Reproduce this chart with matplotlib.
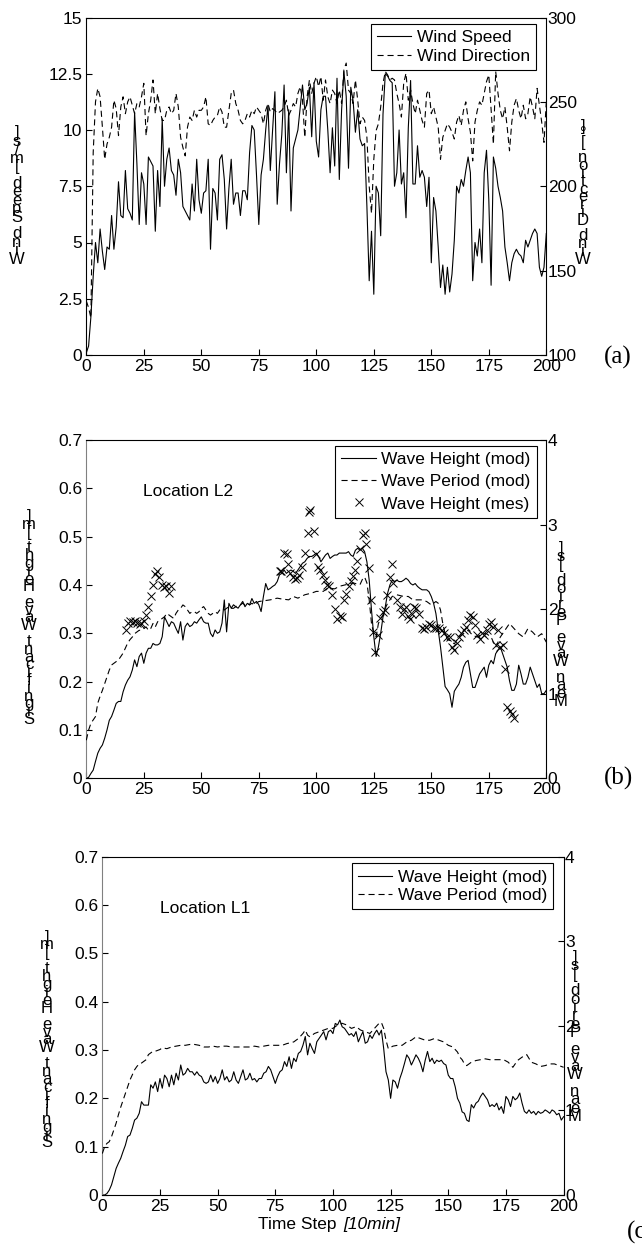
import matplotlib
matplotlib.use("Agg")
import matplotlib.pyplot as plt
from matplotlib.lines import Line2D
import numpy as np

plt.rcParams['font.family'] = ['Liberation Sans', 'DejaVu Sans']

# ---------------- data ----------------
wind_speed = [0.1, 0.4, 1.7, 3.5, 5.0, 4.1, 5.6, 4.6, 3.8, 4.8,
              4.7, 6.2, 4.7, 5.7, 7.7, 6.2, 6.1, 8.2, 6.5, 6.3,
              6.0, 10.8, 8.5, 5.8, 8.1, 7.6, 5.8, 8.8, 8.6, 8.4,
              5.5, 8.2, 6.6, 10.5, 7.5, 8.7, 9.2, 8.2, 8.0, 7.1,
              8.7, 8.1, 6.6, 6.4, 6.2, 6.0, 7.6, 6.4, 8.7, 6.9,
              6.3, 7.2, 7.3, 8.7, 4.7, 7.4, 7.2, 6.0, 8.7, 8.9,
              7.8, 5.6, 7.4, 8.7, 6.7, 7.2, 7.2, 6.2, 7.3, 7.3,
              6.9, 9.0, 10.2, 10.0, 8.0, 5.8, 8.0, 8.7, 10.0, 11.1,
              8.2, 10.0, 11.7, 6.7, 8.5, 9.8, 12.0, 8.1, 10.9, 6.4,
              9.2, 9.6, 10.0, 11.0, 12.0, 10.9, 11.2, 11.9, 9.7, 12.1,
              9.5, 8.8, 10.9, 11.5, 11.5, 10.0, 8.1, 10.1, 8.4, 12.3,
              7.8, 10.9, 12.6, 11.5, 8.3, 11.9, 11.3, 9.9, 10.9, 9.6,
              9.3, 9.4, 6.6, 3.3, 5.5, 2.7, 7.5, 7.2, 5.3, 10.7,
              12.5, 12.4, 12.2, 12.1, 7.5, 8.1, 10.0, 7.6, 8.1, 6.1,
              10.1, 12.2, 7.6, 7.6, 9.3, 7.9, 8.2, 7.9, 6.6, 7.9,
              4.1, 7.0, 6.4, 4.8, 3.0, 4.0, 2.7, 3.9, 2.8, 3.6,
              5.1, 7.5, 7.2, 7.8, 7.5, 8.2, 8.8, 8.1, 3.3, 5.0,
              4.4, 5.6, 4.1, 8.1, 9.1, 6.9, 3.1, 8.8, 8.3, 7.5,
              7.0, 6.4, 4.8, 4.1, 3.3, 4.1, 4.5, 4.7, 4.5, 4.4,
              4.1, 5.1, 4.8, 5.1, 5.4, 5.6, 5.4, 3.9, 3.5, 3.9,
              5.4]

wind_dir = [132, 128, 122, 220, 250, 258, 253, 235, 216, 225,
            229, 235, 251, 246, 230, 247, 253, 243, 250, 253,
            248, 243, 249, 247, 253, 261, 230, 243, 251, 263,
            243, 255, 246, 239, 239, 245, 247, 243, 245, 255,
            247, 229, 223, 218, 235, 241, 239, 245, 241, 245,
            245, 247, 253, 237, 236, 239, 241, 242, 247, 244,
            235, 235, 245, 255, 257, 249, 245, 239, 237, 239,
            243, 241, 245, 243, 247, 245, 243, 237, 245, 249,
            244, 246, 245, 243, 244, 245, 247, 251, 242, 245,
            249, 247, 255, 259, 251, 229, 253, 263, 255, 261,
            265, 259, 265, 251, 263, 253, 249, 257, 255, 249,
            257, 249, 269, 273, 257, 255, 249, 263, 251, 237,
            241, 239, 229, 200, 184, 216, 233, 237, 247, 261,
            268, 266, 263, 264, 263, 255, 249, 241, 261, 267,
            251, 257, 249, 243, 251, 245, 239, 235, 255, 257,
            243, 247, 241, 235, 216, 229, 233, 237, 235, 232,
            228, 238, 242, 236, 245, 250, 240, 232, 215, 238,
            245, 250, 248, 255, 262, 266, 245, 225, 268, 255,
            245, 240, 247, 235, 221, 238, 248, 252, 245, 240,
            248, 240, 243, 253, 247, 240, 258, 248, 238, 226,
            250]

height_b = [0.0, 0.002, 0.01, 0.017, 0.035, 0.052, 0.062, 0.069, 0.083, 0.10,
            0.12, 0.128, 0.141, 0.155, 0.159, 0.159, 0.179, 0.193, 0.203, 0.21,
            0.224, 0.245, 0.231, 0.252, 0.259, 0.238, 0.259, 0.269, 0.269, 0.279,
            0.276, 0.276, 0.279, 0.293, 0.334, 0.324, 0.314, 0.324, 0.321, 0.31,
            0.30, 0.324, 0.286, 0.314, 0.321, 0.314, 0.317, 0.324, 0.321, 0.328,
            0.334, 0.324, 0.321, 0.321, 0.30, 0.293, 0.307, 0.30, 0.303, 0.321,
            0.369, 0.303, 0.362, 0.352, 0.359, 0.355, 0.352, 0.359, 0.366, 0.355,
            0.362, 0.359, 0.372, 0.362, 0.366, 0.359, 0.345, 0.376, 0.403, 0.39,
            0.393, 0.397, 0.40, 0.407, 0.421, 0.424, 0.431, 0.424, 0.428, 0.431,
            0.428, 0.424, 0.431, 0.438, 0.445, 0.448, 0.455, 0.459, 0.459, 0.462,
            0.466, 0.459, 0.448, 0.455, 0.462, 0.466, 0.455, 0.459, 0.462, 0.462,
            0.466, 0.466, 0.466, 0.466, 0.469, 0.462, 0.459, 0.472, 0.476, 0.472,
            0.476, 0.469, 0.448, 0.41, 0.348, 0.293, 0.252, 0.272, 0.30, 0.334,
            0.355, 0.383, 0.40, 0.41, 0.407, 0.41, 0.407, 0.407, 0.41, 0.414,
            0.41, 0.403, 0.40, 0.403, 0.397, 0.393, 0.39, 0.39, 0.39, 0.386,
            0.376, 0.362, 0.341, 0.307, 0.272, 0.231, 0.19, 0.183, 0.175, 0.147,
            0.18, 0.188, 0.195, 0.209, 0.23, 0.24, 0.244, 0.216, 0.188, 0.188,
            0.202, 0.216, 0.223, 0.23, 0.209, 0.234, 0.244, 0.237, 0.258, 0.265,
            0.272, 0.258, 0.244, 0.23, 0.202, 0.182, 0.182, 0.195, 0.234, 0.216,
            0.195, 0.195, 0.209, 0.23, 0.216, 0.202, 0.188, 0.195, 0.175, 0.175,
            0.182]

period_b_t = list(range(0, 76)) + [
    80, 83, 85, 88, 90, 92, 95, 98, 100, 103, 105, 108, 110, 113, 116, 119,
    120, 121, 122, 123, 124, 125, 126, 127, 128, 129, 130, 131, 132, 133, 135,
    138, 140, 142, 144, 146, 148, 150, 152, 153, 154, 155, 156, 157, 158, 160,
    162, 164, 166, 168, 170, 172, 174, 176, 178, 180, 182, 184, 186, 188, 190,
    192, 194, 196, 198, 200]
period_b = [0.45, 0.57, 0.65, 0.69, 0.73, 0.89, 0.97, 1.04, 1.12, 1.2,
            1.28, 1.34, 1.36, 1.38, 1.4, 1.44, 1.48, 1.54, 1.6, 1.64,
            1.67, 1.71, 1.73, 1.75, 1.75, 1.77, 1.79, 1.75, 1.77, 1.83,
            1.79, 1.85, 1.87, 1.89, 1.91, 1.95, 1.93, 1.91, 1.89, 1.95,
            1.99, 2.01, 2.05, 2.03, 1.99, 1.95, 1.97, 1.97, 1.95, 1.97,
            2.01, 2.03, 1.99, 1.95, 1.93, 1.95, 1.97, 1.95, 1.99, 2.01,
            1.99, 2.01, 2.03, 2.01, 2.01, 2.03, 2.05, 2.05, 2.07, 2.05,
            2.07, 2.05, 2.07, 2.05, 2.07, 2.09,
            2.11, 2.13, 2.12, 2.11, 2.15, 2.13, 2.17, 2.19, 2.21, 2.21,
            2.25, 2.24, 2.27, 2.29, 2.31, 2.29,
            2.35, 2.38, 2.31, 2.11, 1.83, 1.71, 1.67, 1.83, 1.89, 1.93,
            2.01, 2.07, 2.11, 2.15, 2.17,
            2.15, 2.15, 2.11, 2.11, 2.11, 2.09, 2.05, 2.09, 2.07, 1.99,
            1.83, 1.71, 1.64, 1.63, 1.59,
            1.67, 1.71, 1.75, 1.69, 1.67, 1.71, 1.71, 1.67, 1.55, 1.67,
            1.75, 1.83, 1.77, 1.71, 1.67,
            1.77, 1.73, 1.67, 1.71, 1.61]

meas_b_t = [17.1, 18.1, 19.1, 20.1, 21.2, 22.2, 23.2, 23.9, 24.9, 25.9,
            27.0, 28.0, 29.0, 30.0, 30.7, 31.7, 32.8, 33.8, 34.8, 35.8, 36.8,
            84.0, 84.7, 86.1, 87.1, 87.7, 88.6, 89.7, 90.8, 91.8, 92.6, 93.8,
            95.0, 96.2, 97.0, 97.4, 98.8, 99.9, 100.9, 101.7, 102.7, 103.8,
            104.6, 105.6, 107.0, 108.1, 109.1, 110.3, 111.1, 112.1, 113.0,
            114.0, 115.0, 116.0, 116.9, 117.9, 118.9, 120.1, 121.0, 121.8,
            123.0, 123.8, 124.7, 125.6, 126.7, 127.9, 128.8, 129.9, 130.8,
            131.9, 132.8, 133.5, 135.1, 136.3, 137.1, 138.0, 138.9, 139.7,
            140.6, 141.5, 142.5, 143.5, 144.7, 145.8, 146.8, 147.8, 149.0,
            150.0, 151.2, 152.2, 153.3, 154.5, 155.5, 157.0, 158, 159, 160,
            161, 162, 163, 164, 165, 166, 167, 168, 169, 170, 171, 172, 173,
            174, 175, 176, 177, 178, 179, 180, 181, 182, 183, 184, 185, 186]
meas_b = [0.307, 0.322, 0.326, 0.324, 0.326, 0.322, 0.319, 0.321, 0.326, 0.338,
          0.354, 0.377, 0.401, 0.422, 0.428, 0.416, 0.401, 0.395, 0.397, 0.383, 0.398,
          0.428, 0.428, 0.466, 0.464, 0.443, 0.424, 0.416, 0.412, 0.414, 0.421, 0.438,
          0.466, 0.508, 0.552, 0.555, 0.512, 0.464, 0.438, 0.431, 0.421, 0.41,
          0.40, 0.397, 0.379, 0.35, 0.329, 0.336, 0.333, 0.369, 0.381,
          0.398, 0.408, 0.419, 0.431, 0.45, 0.474, 0.503, 0.508, 0.485,
          0.436, 0.369, 0.303, 0.261, 0.297, 0.331, 0.345, 0.348, 0.379,
          0.416, 0.443, 0.405, 0.369, 0.355, 0.34, 0.35, 0.354, 0.336,
          0.329, 0.34, 0.355, 0.352, 0.34, 0.312, 0.308, 0.314, 0.319,
          0.317, 0.312, 0.31, 0.312, 0.307, 0.301, 0.293, 0.292, 0.272, 0.265,
          0.279, 0.292, 0.30, 0.306, 0.313, 0.327, 0.337, 0.334, 0.317, 0.296, 0.289, 0.30, 0.296,
          0.306, 0.32, 0.324, 0.313, 0.275, 0.306, 0.272, 0.275, 0.227, 0.147, 0.14, 0.133, 0.125]

height_c = [0.0, 0.0, 0.003, 0.01, 0.021, 0.038, 0.055, 0.066, 0.076, 0.09,
            0.103, 0.121, 0.124, 0.138, 0.155, 0.159, 0.169, 0.193, 0.186, 0.186,
            0.186, 0.228, 0.221, 0.234, 0.214, 0.241, 0.221, 0.248, 0.241, 0.224,
            0.248, 0.228, 0.252, 0.238, 0.269, 0.248, 0.252, 0.262, 0.255, 0.255,
            0.248, 0.255, 0.248, 0.245, 0.234, 0.231, 0.234, 0.248, 0.234, 0.245,
            0.231, 0.241, 0.259, 0.238, 0.245, 0.234, 0.238, 0.255, 0.238, 0.231,
            0.245, 0.259, 0.238, 0.241, 0.252, 0.238, 0.241, 0.234, 0.241, 0.241,
            0.252, 0.255, 0.266, 0.259, 0.245, 0.231, 0.245, 0.255, 0.259, 0.276,
            0.266, 0.286, 0.262, 0.283, 0.276, 0.293, 0.297, 0.31, 0.328, 0.29,
            0.314, 0.303, 0.293, 0.317, 0.324, 0.331, 0.338, 0.321, 0.338, 0.341,
            0.334, 0.355, 0.352, 0.362, 0.348, 0.345, 0.338, 0.331, 0.334, 0.328,
            0.338, 0.317, 0.328, 0.338, 0.314, 0.317, 0.331, 0.324, 0.334, 0.341,
            0.331, 0.341, 0.303, 0.255, 0.238, 0.20, 0.238, 0.234, 0.221, 0.241,
            0.255, 0.272, 0.29, 0.283, 0.269, 0.279, 0.29, 0.283, 0.272, 0.255,
            0.279, 0.297, 0.276, 0.283, 0.272, 0.279, 0.276, 0.279, 0.272, 0.269,
            0.248, 0.241, 0.241, 0.224, 0.20, 0.19, 0.172, 0.169, 0.155, 0.152,
            0.187, 0.18, 0.19, 0.194, 0.204, 0.211, 0.204, 0.197, 0.183, 0.187,
            0.183, 0.19, 0.176, 0.183, 0.169, 0.204, 0.197, 0.183, 0.204, 0.197,
            0.201, 0.211, 0.19, 0.173, 0.169, 0.176, 0.169, 0.173, 0.166, 0.173,
            0.169, 0.171, 0.176, 0.173, 0.169, 0.176, 0.173, 0.166, 0.169, 0.155,
            0.162]

period_c_t = list(range(0, 27)) + list(range(28, 75, 2)) + [
    78, 80, 83, 85, 87, 88, 89, 90, 92, 94, 96, 98, 100, 102, 104, 106, 108,
    110, 112, 114, 116, 118, 120, 121, 122, 123, 124, 126, 128, 130, 132, 134,
    136, 138, 140, 142, 144, 146, 148, 150, 152, 154, 155, 156, 157, 158, 160,
    162, 164, 166, 168, 170, 172, 174, 176, 178, 180, 182, 184, 186, 188, 190,
    192, 194, 196, 198, 200]
period_c = [0.49, 0.57, 0.61, 0.63, 0.69, 0.77, 0.85, 0.95, 1.04, 1.12,
            1.2, 1.28, 1.36, 1.42, 1.48, 1.52, 1.55, 1.56, 1.58, 1.6,
            1.66, 1.68, 1.7, 1.7, 1.71, 1.72, 1.74,
            1.73, 1.75, 1.76, 1.77, 1.77, 1.78, 1.78, 1.77, 1.75, 1.75,
            1.76, 1.75, 1.76, 1.76, 1.75, 1.75, 1.75, 1.75, 1.75, 1.76,
            1.75, 1.76, 1.77, 1.77,
            1.77, 1.79, 1.81, 1.85, 1.91, 1.95, 1.89, 1.87, 1.91, 1.93,
            1.95, 1.97, 1.97, 2.01, 2.03, 2.01, 1.97, 1.99, 1.95, 1.93,
            1.91, 1.97, 2.03, 2.04, 1.97, 1.83, 1.73, 1.76, 1.77, 1.77,
            1.81, 1.83, 1.87, 1.85, 1.83, 1.83, 1.85, 1.83, 1.81, 1.77,
            1.75, 1.69, 1.63, 1.6, 1.55, 1.53, 1.57, 1.59, 1.6, 1.61,
            1.6, 1.6, 1.6, 1.6, 1.57, 1.51, 1.59, 1.63, 1.66, 1.57,
            1.55, 1.52, 1.53, 1.55, 1.55, 1.53, 1.51]

steps = np.arange(len(wind_speed))

# ---------------- layout ----------------
W, H = 642, 1247
fig = plt.figure(figsize=(W / 100, H / 100), dpi=100)
FS = 12.5
LW = 0.8
DASH = (0, (5.5, 3.5))


def add_axes_px(x0, y0, x1, y1):
    return fig.add_axes([x0 / W, 1 - y1 / H, (x1 - x0) / W, (y1 - y0) / H])


def style(ax, ax2, left_gray):
    ax.set_xlim(0, 200)
    ax.set_xticks(range(0, 201, 25))
    ax.tick_params(axis='x', direction='in', length=4, width=LW, labelsize=FS, pad=3, top=False)
    ax.tick_params(axis='y', direction='in', length=4, width=LW, labelsize=FS, pad=3)
    ax2.tick_params(axis='y', direction='in', length=4, width=LW, labelsize=FS, pad=1)
    for s in ax.spines.values():
        s.set_linewidth(LW)
    ax.spines['right'].set_visible(False)
    ax2.spines['left'].set_visible(False)
    ax2.spines['bottom'].set_visible(False)
    ax2.spines['top'].set_visible(False)
    ax2.spines['right'].set_linewidth(LW)
    if left_gray:
        ax.spines['left'].set_color('#808080')


def stacked_label(x, y, s, ls):
    fig.text(x / W, 1 - y / H, "\n".join(reversed(list(s))), ha='center', va='center',
             fontsize=12, linespacing=ls, multialignment='center')


def legend(ax2, handles, labels, x1, y1, spacing):
    leg = ax2.legend(handles, labels, loc='upper right', bbox_to_anchor=(x1, y1),
                     fontsize=FS, frameon=True, fancybox=False, framealpha=1,
                     edgecolor='black', borderpad=0.35, labelspacing=spacing,
                     handlelength=2.0, handletextpad=0.3, borderaxespad=0)
    leg.get_frame().set_linewidth(LW)


# ---------- panel (a) ----------
axa = add_axes_px(86.3, 17.5, 546.3, 355)
axa2 = axa.twinx()
axa.plot(steps, wind_speed, color='black', lw=LW)
axa2.plot(steps, wind_dir, color='black', lw=LW, linestyle=DASH)
axa.set_ylim(0, 15)
axa.set_yticks([0, 2.5, 5, 7.5, 10, 12.5, 15])
axa.set_yticklabels(['0', '2.5', '5', '7.5', '10', '12.5', '15'])
axa2.set_ylim(100, 300)
axa2.set_yticks(range(100, 301, 50))
style(axa, axa2, False)
legend(axa2, [Line2D([], [], color='black', lw=LW),
              Line2D([], [], color='black', lw=LW, linestyle=DASH)],
       ['Wind Speed', 'Wind Direction'], 0.977, 0.981, 0.2)
stacked_label(17, 196, "Wind Speed [m/s]", 0.45)
stacked_label(583, 193, "Wind Direction [°]", 0.40)
fig.text(604 / W, 1 - 357 / H, "(a)", family='Liberation Serif', fontsize=18,
         ha='left', va='center')

# ---------- panel (b) ----------
axb = add_axes_px(86.3, 440, 546.3, 778.3)
axb2 = axb.twinx()
axb.plot(steps, height_b, color='black', lw=LW)
axb2.plot(period_b_t, period_b, color='black', lw=LW, linestyle=DASH)
axb.plot(meas_b_t, meas_b, linestyle='none', marker='x', color='black', ms=5.5, mew=0.7)
axb.set_ylim(0, 0.7)
axb.set_yticks(np.arange(0, 0.71, 0.1))
axb.set_yticklabels(['0', '0.1', '0.2', '0.3', '0.4', '0.5', '0.6', '0.7'])
axb2.set_ylim(0, 4)
axb2.set_yticks(range(0, 5))
style(axb, axb2, True)
legend(axb2, [Line2D([], [], color='black', lw=LW),
              Line2D([], [], color='black', lw=LW, linestyle=DASH),
              Line2D([], [], color='black', linestyle='none', marker='x', ms=5.5, mew=0.7)],
       ['Wave Height (mod)', 'Wave Period (mod)', 'Wave Height (mes)'], 0.979, 0.982, 0.4)
axb.text(0.124, 0.847, "Location L2", transform=axb.transAxes, fontsize=FS,
         ha='left', va='center')
stacked_label(29, 618, "Significant Wave Height [m]", 0.40)
stacked_label(561, 625, "Mean Wave Period [s]", 0.42)
fig.text(604 / W, 1 - 778 / H, "(b)", family='Liberation Serif', fontsize=18,
         ha='left', va='center')

# ---------- panel (c) ----------
axc = add_axes_px(102.3, 856.7, 563.6, 1195)
axc2 = axc.twinx()
axc.plot(steps, height_c, color='black', lw=LW)
axc2.plot(period_c_t, period_c, color='black', lw=LW, linestyle=DASH)
axc.set_ylim(0, 0.7)
axc.set_yticks(np.arange(0, 0.71, 0.1))
axc.set_yticklabels(['0', '0.1', '0.2', '0.3', '0.4', '0.5', '0.6', '0.7'])
axc2.set_ylim(0, 4)
axc2.set_yticks(range(0, 5))
style(axc, axc2, True)
legend(axc2, [Line2D([], [], color='black', lw=LW),
              Line2D([], [], color='black', lw=LW, linestyle=DASH)],
       ['Wave Height (mod)', 'Wave Period (mod)'], 0.977, 0.98, 0.2)
axc.text(0.124, 0.847, "Location L1", transform=axc.transAxes, fontsize=FS,
         ha='left', va='center')
stacked_label(47, 1040, "Significant Wave Height [m]", 0.41)
stacked_label(575, 1037, "Mean Wave Period [s]", 0.45)
fig.text(341 / W, 1 - 1225 / H, "Time Step ", fontsize=FS, ha='right', va='center')
fig.text(343 / W, 1 - 1225 / H, "[10min]", fontsize=FS, ha='left', va='center',
         style='italic')
fig.text(627 / W, 1 - 1232 / H, "(c)", family='Liberation Serif', fontsize=18,
         ha='left', va='center')

fig.savefig("out.png", dpi=100)
